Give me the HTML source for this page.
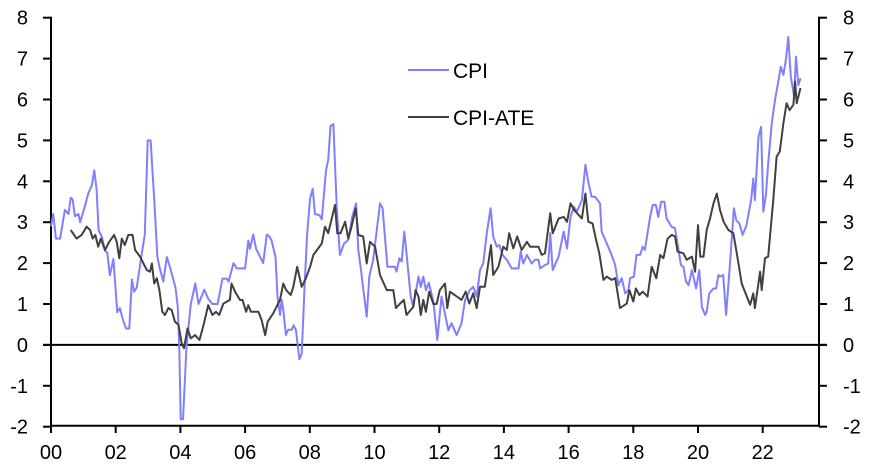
<!DOCTYPE html>
<html><head><meta charset="utf-8"><style>
html,body{margin:0;padding:0;background:#fff;}
svg{display:block;font-family:"Liberation Sans",Arial,sans-serif;}
</style></head><body>
<svg id="c" width="871" height="469" viewBox="0 0 871 469" xmlns="http://www.w3.org/2000/svg">
<g stroke="#000" stroke-width="2" fill="none">
<line x1="51" y1="16.7" x2="51" y2="425.7"/>
<line x1="819" y1="16.7" x2="819" y2="425.7"/>
<line x1="51" y1="425.7" x2="819" y2="425.7"/>
<line x1="43" y1="344.9" x2="827" y2="344.9"/>
</g>
<g id="ticks" stroke="#000" stroke-width="2"></g>
<g id="labels" font-size="20" fill="#000"></g>
<polyline id="cpi" fill="none" stroke="#7f7fff" stroke-width="2" stroke-linejoin="round"/>
<polyline id="ate" fill="none" stroke="#404040" stroke-width="2" stroke-linejoin="round"/>
<line x1="408" y1="70" x2="449" y2="70" stroke="#7f7fff" stroke-width="2"/>
<line x1="408" y1="117" x2="449" y2="117" stroke="#404040" stroke-width="2"/>
<text x="453" y="78" font-size="21">CPI</text>
<text x="453" y="125" font-size="21">CPI-ATE</text>
</svg>
<script>
var X=function(y){return 51+y*32.35;},Y=function(v){return 344.9-v*40.9;};
var cpi=[[0,2.9],[.07,3.2],[.15,2.6],[.28,2.6],[.43,3.3],[.54,3.2],[.61,3.6],[.67,3.55],[.74,3.15],[.85,3.2],[.9,3],[1.05,3.4],[1.15,3.7],[1.26,3.9],[1.34,4.27],[1.41,3.8],[1.47,2.8],[1.57,2.65],[1.67,2.3],[1.74,2.25],[1.82,1.7],[1.93,2.1],[2.05,.8],[2.13,.9],[2.23,.6],[2.32,.4],[2.42,.4],[2.5,1.6],[2.57,1.3],[2.65,1.4],[2.8,2.2],[2.9,2.7],[2.99,5],[3.08,5],[3.18,3.7],[3.29,2.15],[3.37,1.85],[3.47,1.55],[3.58,2.15],[3.68,1.9],[3.78,1.6],[3.85,1.4],[3.92,.93],[3.97,-.2],[4.01,-1.82],[4.08,-1.82],[4.19,-.05],[4.32,1],[4.46,1.5],[4.56,1],[4.74,1.35],[4.86,1.13],[4.99,1],[5.15,1],[5.3,1.62],[5.43,1.62],[5.49,1.55],[5.64,2],[5.74,1.87],[6,1.87],[6.1,2.55],[6.15,2.35],[6.25,2.7],[6.34,2.35],[6.56,2],[6.67,2.7],[6.75,2.65],[6.82,2.55],[6.94,2.15],[7,1.17],[7.08,.73],[7.13,1.1],[7.18,.85],[7.26,.24],[7.33,.37],[7.44,.37],[7.5,.48],[7.57,.37],[7.68,-.35],[7.75,-.22],[7.85,1.6],[7.92,2.73],[8.01,3.58],[8.09,3.82],[8.16,3.2],[8.3,3.17],[8.37,3.07],[8.5,4.27],[8.57,4.52],[8.64,5.35],[8.73,5.4],[8.83,3.38],[8.93,2.2],[9.06,2.48],[9.19,2.57],[9.31,3.13],[9.43,3.46],[9.5,2.32],[9.57,1.91],[9.65,1.38],[9.76,.69],[9.84,1.67],[9.96,2.08],[10.07,2.81],[10.17,3.46],[10.25,3.34],[10.32,2.65],[10.4,1.91],[10.63,1.91],[10.68,1.79],[10.77,2.12],[10.84,2.04],[10.92,2.77],[10.99,2.24],[11.12,1.18],[11.2,.93],[11.36,1.67],[11.43,1.42],[11.51,1.67],[11.59,1.34],[11.68,1.52],[11.82,1.06],[11.94,.12],[12.07,1.18],[12.28,.36],[12.38,.53],[12.54,.24],[12.69,.53],[12.8,1.1],[12.95,1.34],[13.05,1.42],[13.16,1.18],[13.26,1.83],[13.36,1.99],[13.47,2.73],[13.59,3.34],[13.67,2.65],[13.78,2.4],[13.86,2.44],[13.96,2.2],[14.09,2.08],[14.24,1.87],[14.45,1.87],[14.52,2.28],[14.6,1.99],[14.71,2.2],[14.86,1.99],[14.96,2.08],[15.07,2.08],[15.12,1.87],[15.27,1.95],[15.37,1.99],[15.43,2.73],[15.51,1.83],[15.69,2.16],[15.85,2.77],[15.95,2.36],[16.06,3.13],[16.16,3.38],[16.26,3.26],[16.41,3.54],[16.52,4.4],[16.61,3.99],[16.71,3.62],[16.82,3.62],[16.97,3.46],[17.02,2.77],[17.18,2.48],[17.33,2.2],[17.44,1.95],[17.54,1.46],[17.64,1.63],[17.75,1.26],[17.85,1.34],[17.9,1.63],[18.02,1.67],[18.1,2.2],[18.21,2.2],[18.29,2.4],[18.36,2.32],[18.52,3.13],[18.6,3.42],[18.7,3.42],[18.77,3.13],[18.86,3.5],[18.96,3.5],[19.03,3.09],[19.18,2.89],[19.29,2.85],[19.39,2.36],[19.47,1.95],[19.55,1.91],[19.63,1.55],[19.71,1.46],[19.81,1.83],[19.94,1.38],[20.04,1.83],[20.12,.93],[20.22,.73],[20.27,.81],[20.35,1.26],[20.48,1.38],[20.56,1.38],[20.63,1.71],[20.68,1.67],[20.78,1.71],[20.87,.73],[20.99,1.99],[21.11,3.34],[21.18,3.05],[21.28,2.97],[21.38,2.69],[21.5,2.93],[21.64,3.54],[21.71,4.07],[21.76,3.54],[21.87,5.09],[21.95,5.33],[22.02,3.26],[22.1,3.66],[22.17,4.44],[22.28,5.42],[22.38,5.99],[22.49,6.48],[22.56,6.8],[22.64,6.6],[22.72,7],[22.79,7.53],[22.87,6.56],[22.97,6.07],[23.03,7.05],[23.1,6.35],[23.17,6.52]];
var ate=[[.61,2.81],[.79,2.6],[.95,2.69],[1.1,2.89],[1.21,2.81],[1.29,2.6],[1.37,2.69],[1.46,2.4],[1.54,2.6],[1.67,2.32],[1.8,2.52],[1.95,2.69],[2.03,2.52],[2.11,2.12],[2.19,2.6],[2.28,2.44],[2.39,2.69],[2.52,2.69],[2.6,2.32],[2.75,2.16],[2.96,1.83],[3.06,1.79],[3.12,1.99],[3.19,1.5],[3.27,1.63],[3.35,1.34],[3.44,.81],[3.52,.73],[3.63,.9],[3.73,.85],[3.83,.57],[3.94,.49],[4.04,.04],[4.11,-.08],[4.22,.4],[4.32,.16],[4.45,.24],[4.59,.12],[4.73,.53],[4.86,.97],[4.99,.73],[5.1,.81],[5.2,.73],[5.33,1.01],[5.53,1.1],[5.58,1.5],[5.69,1.3],[5.84,1.1],[5.92,1.1],[6.03,.81],[6.1,.97],[6.18,.81],[6.41,.81],[6.51,.61],[6.62,.24],[6.7,.57],[6.87,.77],[7.08,1.1],[7.18,1.5],[7.27,1.34],[7.41,1.22],[7.49,1.42],[7.61,1.91],[7.75,1.42],[7.88,1.63],[8.01,1.91],[8.11,2.2],[8.26,2.36],[8.37,2.48],[8.47,2.89],[8.57,2.73],[8.78,3.42],[8.85,2.73],[8.95,2.73],[9.09,3.01],[9.19,2.6],[9.29,2.89],[9.42,3.34],[9.5,2.69],[9.65,2.65],[9.76,1.99],[9.86,2.52],[10.02,2.4],[10.17,1.71],[10.38,1.34],[10.58,1.34],[10.66,.9],[10.79,1.01],[10.91,1.1],[10.99,.73],[11.2,.93],[11.27,1.34],[11.36,1.18],[11.43,.73],[11.51,1.1],[11.59,.81],[11.69,1.3],[11.82,1],[11.92,1],[12.02,1.34],[12.18,1.5],[12.25,.9],[12.33,1.3],[12.48,1.22],[12.69,1.1],[12.82,1.3],[12.93,1.01],[13.05,1.26],[13.16,.9],[13.26,1.42],[13.41,1.42],[13.6,2.44],[13.67,1.71],[13.83,1.91],[13.98,2.4],[14.09,2.32],[14.16,2.73],[14.29,2.36],[14.41,2.65],[14.55,2.32],[14.71,2.52],[14.81,2.4],[15.07,2.4],[15.17,2.2],[15.27,2.24],[15.43,3.22],[15.51,2.73],[15.69,3.09],[15.85,3.13],[15.95,3.01],[16.06,3.46],[16.17,3.3],[16.41,3.09],[16.52,3.7],[16.61,3.01],[16.74,2.97],[16.85,2.57],[16.95,2.24],[17.08,1.59],[17.18,1.67],[17.33,1.59],[17.44,1.63],[17.59,.9],[17.8,1.01],[17.88,1.34],[18,1.06],[18.08,1.38],[18.19,1.22],[18.29,1.3],[18.44,1.18],[18.57,1.91],[18.71,1.63],[18.83,2.2],[18.93,2.12],[19.06,2.6],[19.19,2.69],[19.29,2.65],[19.37,2.28],[19.55,2.24],[19.65,2.08],[19.81,2.16],[19.91,1.79],[20,2.93],[20.07,2.16],[20.17,2.16],[20.27,2.81],[20.37,3.09],[20.48,3.46],[20.58,3.7],[20.68,3.3],[20.79,3.01],[20.94,2.81],[21.09,2.73],[21.2,2.24],[21.35,1.5],[21.61,.98],[21.71,1.26],[21.76,.9],[21.92,1.79],[21.97,1.34],[22.07,2.12],[22.17,2.16],[22.33,3.58],[22.43,4.6],[22.53,4.73],[22.64,5.42],[22.74,5.91],[22.83,5.74],[22.95,5.87],[23,6.44],[23.05,5.91],[23.17,6.28]];
function pts(a){return a.map(function(p){return X(p[0]).toFixed(1)+","+Y(p[1]).toFixed(1);}).join(" ");}
document.getElementById("cpi").setAttribute("points",pts(cpi));
document.getElementById("ate").setAttribute("points",pts(ate));
var NS="http://www.w3.org/2000/svg",t=document.getElementById("ticks"),l=document.getElementById("labels");
function el(p,n,a,txt){var e=document.createElementNS(NS,n);for(var k in a)e.setAttribute(k,a[k]);if(txt!=null)e.textContent=txt;p.appendChild(e);}
for(var v=-2;v<=8;v++){var y=Y(v);
el(t,"line",{x1:43,y1:y,x2:51,y2:y});el(t,"line",{x1:819,y1:y,x2:827,y2:y});
el(l,"text",{x:28,y:y+7,"text-anchor":"end"},String(v));
el(l,"text",{x:843,y:y+7},String(v));}
for(var yr=0;yr<=22;yr+=2){var x=X(yr);el(t,"line",{x1:x,y1:425.7,x2:x,y2:433});
el(l,"text",{x:x,y:459,"text-anchor":"middle"},(yr<10?"0":"")+yr);}
</script>
</body></html>
